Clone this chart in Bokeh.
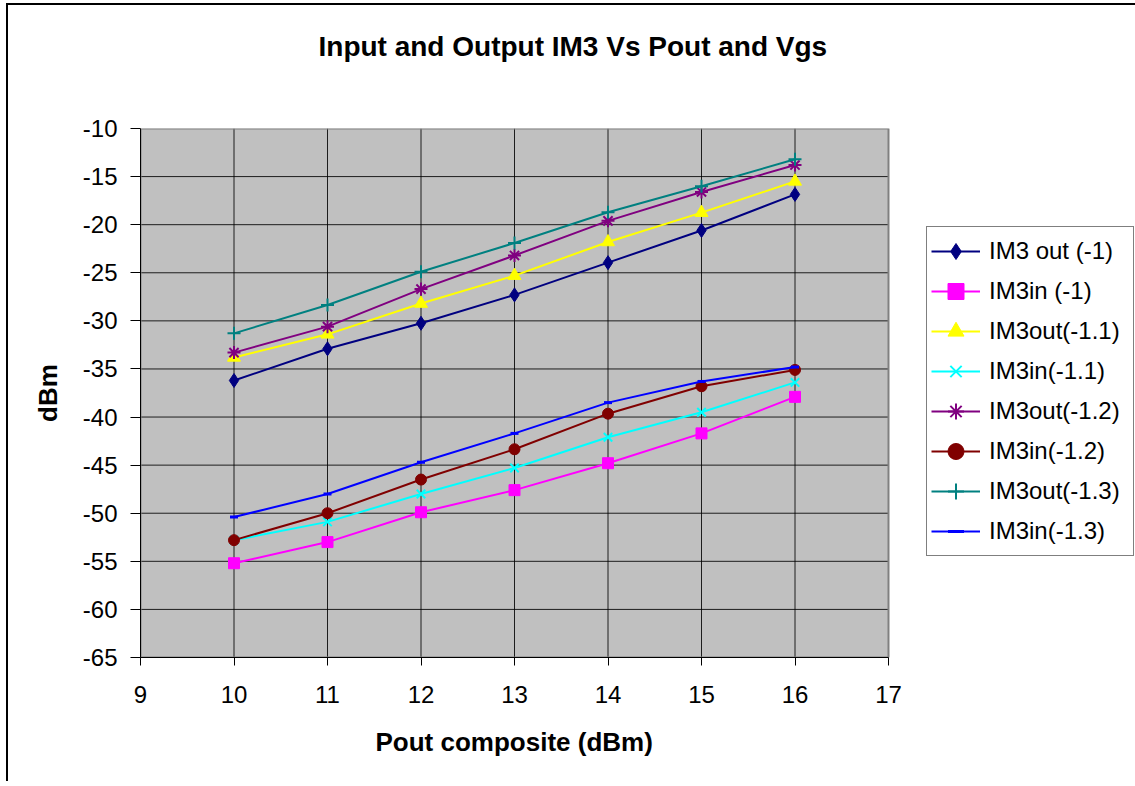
from bokeh.plotting import figure
from bokeh.models import Legend, LegendItem, FixedTicker, Range1d, Title
from bokeh.embed import file_html
from bokeh.resources import INLINE

# ---- data ----
pout = [10, 11, 12, 13, 14, 15, 16]
im3out_m1 = [-36.2, -32.9, -30.25, -27.3, -23.95, -20.6, -16.85]
im3in_m1 = [-55.2, -53.0, -49.9, -47.6, -44.8, -41.7, -37.9]
im3out_m11 = [-33.8, -31.4, -28.2, -25.3, -21.8, -18.75, -15.5]
im3in_m11 = [-52.8, -50.9, -48.0, -45.3, -42.1, -39.5, -36.4]
im3out_m12 = [-33.3, -30.6, -26.7, -23.2, -19.6, -16.6, -13.8]
im3in_m12 = [-52.8, -50.0, -46.5, -43.35, -39.65, -36.8, -35.1]
im3out_m13 = [-31.3, -28.35, -24.9, -21.9, -18.7, -16.0, -13.2]
im3in_m13 = [-50.4, -48.0, -44.7, -41.7, -38.5, -36.3, -34.8]

series_names = ["IM3 out (-1)", "IM3in (-1)", "IM3out(-1.1)", "IM3in(-1.1)",
                "IM3out(-1.2)", "IM3in(-1.2)", "IM3out(-1.3)", "IM3in(-1.3)"]

x_ticks = [9, 10, 11, 12, 13, 14, 15, 16, 17]
x_tick_labels = ["9", "10", "11", "12", "13", "14", "15", "16", "17"]
y_ticks = [-65, -60, -55, -50, -45, -40, -35, -30, -25, -20, -15, -10]
y_tick_labels = ["-65", "-60", "-55", "-50", "-45", "-40", "-35", "-30", "-25", "-20", "-15", "-10"]

title_text = "Input and Output IM3 Vs Pout and Vgs"
x_title = "Pout composite (dBm)"
y_title = "dBm"

FONT = "Liberation Sans"

# layout: the grey plot area is 748 px wide; the frame extends further right
# (white) so that the legend can sit beside the plot area.
AREA_W = 748
FRAME_W = 995
x_lo, x_hi = x_ticks[0], x_ticks[-1]
y_lo, y_hi = y_ticks[0], y_ticks[-1]
x_end = x_lo + FRAME_W * (x_hi - x_lo) / AREA_W

p = figure(frame_width=FRAME_W, frame_height=529, output_backend="svg", toolbar_location=None,
           title=None,
           x_range=Range1d(x_lo, x_end), y_range=Range1d(y_lo, y_hi),
           min_border_left=132, min_border_right=0, min_border_top=123, min_border_bottom=124)

# outer chart border (top and left edges visible in the reference)
p.styles = {"border-top": "2px solid black", "border-left": "2px solid black",
            "margin-top": "3px", "margin-left": "6px"}

p.background_fill_color = "white"
p.border_fill_color = "white"
p.outline_line_color = None
p.xgrid.visible = False
p.ygrid.visible = False

# spacer between the frame and the title, then the title itself
spacer = Title(text=" ", text_font_size="1px", standoff=59)
p.add_layout(spacer, "above")
title = Title(text=title_text, align="left", offset=178, standoff=10,
              text_font=FONT, text_font_size="28px", text_font_style="bold",
              text_color="black")
p.add_layout(title, "above")

# axes
for ax in (p.xaxis[0], p.yaxis[0]):
    ax.major_label_text_font = FONT
    ax.major_label_text_font_size = "24px"
    ax.major_label_text_color = "black"
    ax.axis_label_text_font = FONT
    ax.axis_label_text_font_size = "26px"
    ax.axis_label_text_font_style = "bold"
    ax.axis_label_text_color = "black"
    ax.axis_line_color = "black"
    ax.axis_line_width = 1
    ax.major_tick_line_color = "black"
    ax.major_tick_in = 0
    ax.minor_tick_line_color = None

p.xaxis[0].bounds = (x_lo, x_hi)
p.xaxis[0].ticker = FixedTicker(ticks=x_ticks)
p.xaxis[0].major_label_overrides = dict(zip(x_ticks, x_tick_labels))
p.xaxis[0].major_tick_out = 8
p.xaxis[0].major_label_standoff = 20

# x-axis title, centred under the grey plot area
x_title_obj = Title(text=x_title, align="left", offset=235, standoff=39,
                    text_font=FONT, text_font_size="26px", text_font_style="bold",
                    text_color="black")
p.add_layout(x_title_obj, "below")

p.yaxis[0].ticker = FixedTicker(ticks=y_ticks)
p.yaxis[0].major_label_overrides = dict(zip(y_ticks, y_tick_labels))
p.yaxis[0].major_tick_out = 10
p.yaxis[0].major_label_standoff = 13
p.yaxis[0].axis_label = y_title
p.yaxis[0].axis_label_standoff = 17

# grey plot area
p.quad(left=[x_lo], right=[x_hi], bottom=[y_lo], top=[y_hi],
       fill_color="#C0C0C0", line_color=None)

# grid lines limited to the plot area, drawn from the tick lists
gx = x_ticks[1:-1]
p.segment(x0=gx, x1=gx, y0=[y_lo] * len(gx), y1=[y_hi] * len(gx),
          line_color="black", line_width=1, line_alpha=0.85)
gy = y_ticks[1:-1]
p.segment(x0=[x_lo] * len(gy), x1=[x_hi] * len(gy), y0=gy, y1=gy,
          line_color="black", line_width=1, line_alpha=0.85)

styles = [
    dict(color="#000080", marker="diamond", size=14, lw=1),
    dict(color="#FF00FF", marker="square", size=11, lw=1),
    dict(color="#FFFF00", marker="triangle", size=13, lw=1),
    dict(color="#00FFFF", marker="x", size=12, lw=2),
    dict(color="#800080", marker="asterisk", size=13, lw=2),
    dict(color="#800000", marker="circle", size=11, lw=1),
    dict(color="#008080", marker="cross", size=13, lw=2),
    dict(color="#0000FF", marker="dash", size=8, lw=3),
]
all_series = [im3out_m1, im3in_m1, im3out_m11, im3in_m11,
              im3out_m12, im3in_m12, im3out_m13, im3in_m13]

items = []
for name, ys, st in zip(series_names, all_series, styles):
    ln = p.line(pout, ys, line_color=st["color"], line_width=2)
    sc = p.scatter(pout, ys, marker=st["marker"], size=st["size"],
                   fill_color=st["color"], line_color=st["color"], line_width=st["lw"])
    items.append(LegendItem(label=name, renderers=[ln, sc]))

# plot-area border (grey, top and right sides show)
p.quad(left=[x_lo], right=[x_hi], bottom=[y_lo], top=[y_hi],
       fill_color=None, line_color="#808080", line_width=2)

legend = Legend(items=items, location=(786, 101))
legend.label_text_font = FONT
legend.label_text_font_size = "24px"
legend.label_text_color = "black"
legend.glyph_width = 49
legend.glyph_height = 40
legend.label_height = 40
legend.label_width = 140
legend.label_standoff = 9
legend.spacing = 0
legend.padding = 4
legend.margin = 0
legend.border_line_color = "black"
legend.border_line_width = 1
legend.background_fill_color = "white"
legend.background_fill_alpha = 1
p.add_layout(legend, "center")

open("out.html", "w").write(file_html(p, INLINE))
